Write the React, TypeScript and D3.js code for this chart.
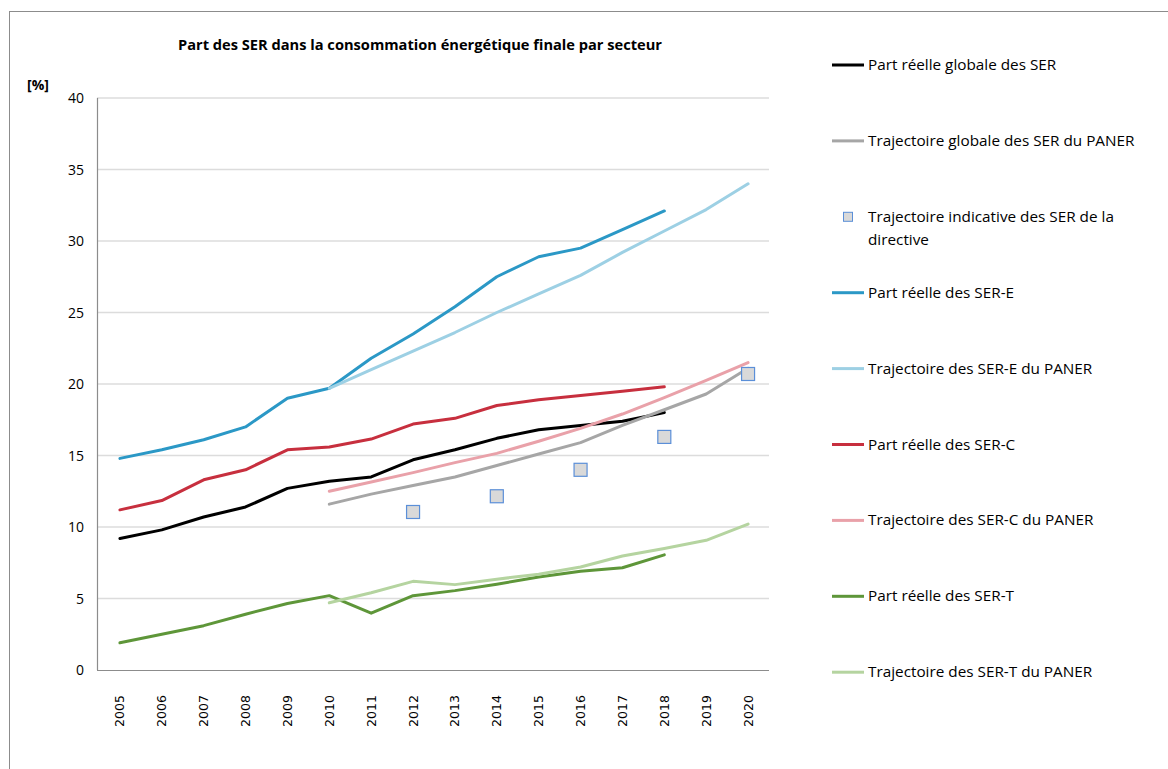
import React from "react";
import * as d3 from "d3";

const years = [2005, 2006, 2007, 2008, 2009, 2010, 2011, 2012, 2013, 2014, 2015, 2016, 2017, 2018, 2019, 2020];
const yTicks = [0, 5, 10, 15, 20, 25, 30, 35, 40];

// values indexed by year (null = no data)
const partGlobale = [9.2, 9.8, 10.7, 11.4, 12.7, 13.2, 13.5, 14.7, 15.4, 16.2, 16.8, 17.1, 17.4, 18.0, null, null];
const trajGlobale = [null, null, null, null, null, 11.6, 12.3, 12.9, 13.5, 14.3, 15.1, 15.9, 17.1, 18.2, 19.3, 21.1];
const trajDirective = [null, null, null, null, null, null, null, 11.05, null, 12.15, null, 14.0, null, 16.3, null, 20.7];
const partE = [14.8, 15.4, 16.1, 17.0, 19.0, 19.7, 21.8, 23.5, 25.4, 27.5, 28.9, 29.5, 30.8, 32.1, null, null];
const trajE = [null, null, null, null, null, 19.7, 21.0, 22.3, 23.6, 25.0, 26.3, 27.6, 29.2, 30.7, 32.2, 34.0];
const partC = [11.2, 11.85, 13.3, 14.0, 15.4, 15.6, 16.15, 17.2, 17.6, 18.5, 18.9, 19.2, 19.5, 19.8, null, null];
const trajC = [null, null, null, null, null, 12.5, 13.15, 13.8, 14.5, 15.15, 16.0, 16.9, 17.9, 19.05, 20.25, 21.5];
const partT = [1.9, 2.5, 3.1, 3.9, 4.65, 5.2, 3.97, 5.2, 5.55, 6.0, 6.5, 6.9, 7.15, 8.05, null, null];
const trajT = [null, null, null, null, null, 4.7, 5.4, 6.2, 5.97, 6.35, 6.7, 7.2, 7.97, 8.5, 9.07, 10.2];

const lineSeries = [
  { name: "Part réelle globale des SER", values: partGlobale, color: "#000000" },
  { name: "Trajectoire globale des SER du PANER", values: trajGlobale, color: "#a6a6a6" },
  { name: "Part réelle des SER-E", values: partE, color: "#2b98c6" },
  { name: "Trajectoire des SER-E du PANER", values: trajE, color: "#9dd0e4" },
  { name: "Part réelle des SER-C", values: partC, color: "#c72f3e" },
  { name: "Trajectoire des SER-C du PANER", values: trajC, color: "#e9a1a9" },
  { name: "Part réelle des SER-T", values: partT, color: "#5e9639" },
  { name: "Trajectoire des SER-T du PANER", values: trajT, color: "#b5d4a0" },
];

const legendItems = [
  { label: ["Part réelle globale des SER"], color: "#000000", type: "line" },
  { label: ["Trajectoire globale des SER du PANER"], color: "#a6a6a6", type: "line" },
  { label: ["Trajectoire indicative des SER de la", "directive"], color: "", type: "square" },
  { label: ["Part réelle des SER-E"], color: "#2b98c6", type: "line" },
  { label: ["Trajectoire des SER-E du PANER"], color: "#9dd0e4", type: "line" },
  { label: ["Part réelle des SER-C"], color: "#c72f3e", type: "line" },
  { label: ["Trajectoire des SER-C du PANER"], color: "#e9a1a9", type: "line" },
  { label: ["Part réelle des SER-T"], color: "#5e9639", type: "line" },
  { label: ["Trajectoire des SER-T du PANER"], color: "#b5d4a0", type: "line" },
];

const FONT = "'Open Sans', Lato, sans-serif";

export default function App() {
  const W = 1168, H = 769;
  const left = 99, right = 769, top = 98, bottom = 670;
  const x = d3.scaleBand<number>().domain(years).range([left, right]);
  const xc = (yr: number) => (x(yr) as number) + x.bandwidth() / 2;
  const y = d3.scaleLinear().domain([0, 40]).range([bottom, top]);

  const line = d3
    .line<[number, number | null]>()
    .defined((d) => d[1] !== null)
    .x((d) => xc(d[0]))
    .y((d) => y(d[1] as number));

  const sq = 13;

  return (
    <svg width={W} height={H} style={{ position: "absolute", left: 0, top: 0 }} fontFamily={FONT}>
      <rect x={0} y={0} width={W} height={H} fill="#fff" />
      <rect x={9.5} y={11.5} width={W + 20} height={H + 20} fill="none" stroke="#8c8c8c" strokeWidth={1} />
      <text x={420} y={50} textAnchor="middle" fontSize={14} fontWeight="bold" fill="#000" textLength={484} lengthAdjust="spacingAndGlyphs">
        Part des SER dans la consommation énergétique finale par secteur
      </text>
      <text x={27} y={90} fontSize={14} fontWeight="bold" fill="#000">[%]</text>

      {yTicks.map((t) => (
        <g key={t}>
          {t > 0 && (
            <line x1={left - 2} x2={right} y1={y(t)} y2={y(t)} stroke="#dcdcdc" strokeWidth={1.3} />
          )}
          <text x={84} y={y(t) + 5} textAnchor="end" fontSize={14} fill="#000">{t}</text>
        </g>
      ))}
      <line x1={97.5} x2={97.5} y1={top} y2={bottom} stroke="#8c8c8c" strokeWidth={1.2} />
      <line x1={97} x2={right} y1={bottom + 0.5} y2={bottom + 0.5} stroke="#8c8c8c" strokeWidth={1.2} />

      {years.map((yr) => (
        <text
          key={yr}
          transform={`translate(${xc(yr) + 4.5},${711}) rotate(-90)`}
          textAnchor="middle"
          fontSize={12.5}
          fontFamily="'DejaVu Sans', Verdana, sans-serif"
          fill="#000"
        >
          {yr}
        </text>
      ))}

      {lineSeries.map((s) => (
        <path
          key={s.name}
          d={line(years.map((yr, i) => [yr, s.values[i]] as [number, number | null])) || ""}
          fill="none"
          stroke={s.color}
          strokeWidth={3}
          strokeLinejoin="round"
          strokeLinecap="round"
        />
      ))}

      {years.map((yr, i) =>
        trajDirective[i] !== null ? (
          <rect
            key={yr}
            x={xc(yr) - sq / 2}
            y={y(trajDirective[i] as number) - sq / 2}
            width={sq}
            height={sq}
            fill="#d9d9d9"
            stroke="#5b8fd8"
            strokeWidth={1.2}
          />
        ) : null
      )}

      {legendItems.map((it, i) => {
        const ly = 65 + i * 75.9;
        return (
          <g key={i}>
            {it.type === "line" ? (
              <line x1={832} x2={864} y1={ly} y2={ly} stroke={it.color} strokeWidth={3} />
            ) : (
              <rect x={843.5} y={ly - 4.5} width={9} height={9} fill="#d9d9d9" stroke="#5b8fd8" strokeWidth={1} />
            )}
            {it.label.map((l, j) => (
              <text key={j} x={868} y={ly + 5 + j * 23} fontSize={15.3} fill="#000">{l}</text>
            ))}
          </g>
        );
      })}
    </svg>
  );
}
